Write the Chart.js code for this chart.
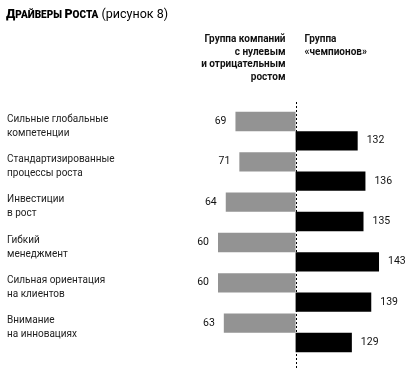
<!DOCTYPE html>
<html>
<head>
<meta charset="utf-8">
<script src="https://cdn.jsdelivr.net/npm/chart.js@4"></script>
<style>
    html, body { margin: 0; padding: 0; background: #fff; }
    #wrap { width: 412px; height: 370px; }
</style>
</head>
<body>
<div id="wrap"><canvas id="driversChart"></canvas></div>
<script>
const categories = [
    ['Сильные глобальные', 'компетенции'],
    ['Стандартизированные', 'процессы роста'],
    ['Инвестиции', 'в рост'],
    ['Гибкий', 'менеджмент'],
    ['Сильная ориентация', 'на клиентов'],
    ['Внимание', 'на инновациях'],
];
const zeroGrowthValues = [69, 71, 64, 60, 60, 63];
const championValues = [132, 136, 135, 143, 139, 129];
const baseline = 100;

const FONT = 'Roboto, "Liberation Sans", sans-serif';

const overlay = {
    id: 'overlay',
    afterDatasetsDraw(chart) {
        const { ctx, scales: { x } } = chart;
        const axisX = Math.round(x.getPixelForValue(baseline)) + 0.5;

        ctx.save();

        // value labels
        ctx.font = '10.5px ' + FONT;
        ctx.fillStyle = '#111';
        ctx.textBaseline = 'middle';
        chart.getDatasetMeta(0).data.forEach((bar, i) => {
            ctx.textAlign = 'right';
            ctx.fillText(zeroGrowthValues[i], x.getPixelForValue(zeroGrowthValues[i]) - 9, bar.y);
        });
        chart.getDatasetMeta(1).data.forEach((bar, i) => {
            ctx.textAlign = 'left';
            ctx.fillText(championValues[i], x.getPixelForValue(championValues[i]) + 9, bar.y);
        });

        // dotted axis
        ctx.strokeStyle = '#000';
        ctx.lineWidth = 1;
        ctx.setLineDash([2, 2]);
        ctx.beginPath();
        ctx.moveTo(axisX, 102);
        ctx.lineTo(axisX, 370);
        ctx.stroke();
        ctx.setLineDash([]);

        // title with small caps
        let tx = 6;
        const parts = [
            ['Д', '900 12.5px '], ['РАЙВЕРЫ ', '900 10px '],
            ['Р', '900 12.5px '], ['ОСТА', '900 10px '],
            [' (рисунок 8)', '12.5px '],
        ];
        ctx.textAlign = 'left';
        ctx.textBaseline = 'alphabetic';
        ctx.fillStyle = '#000';
        parts.forEach(([text, font]) => {
            ctx.font = font + FONT;
            ctx.fillText(text, tx, 18);
            tx += ctx.measureText(text).width;
        });

        // column headers
        ctx.font = 'bold 10px ' + FONT;
        ctx.fillStyle = '#111';
        const leftHead = ['Группа компаний', 'с нулевым', 'и отрицательным', 'ростом'];
        const rightHead = ['Группа', '«чемпионов»'];
        ctx.textAlign = 'right';
        leftHead.forEach((line, i) => ctx.fillText(line, axisX - 11, 42 + i * 12.7));
        ctx.textAlign = 'left';
        rightHead.forEach((line, i) => ctx.fillText(line, axisX + 8, 42 + i * 12.7));

        ctx.restore();
    }
};

new Chart(document.getElementById('driversChart'), {
    type: 'bar',
    plugins: [overlay],
    data: {
        labels: categories,
        datasets: [
            {
                label: 'Группа компаний с нулевым и отрицательным ростом',
                data: zeroGrowthValues.map(v => [v, baseline]),
                backgroundColor: '#939393',
            },
            {
                label: 'Группа «чемпионов»',
                data: championValues.map(v => [baseline, v]),
                backgroundColor: '#000000',
            },
        ],
    },
    options: {
        indexAxis: 'y',
        responsive: true,
        maintainAspectRatio: false,
        animation: false,
        categoryPercentage: 0.96,
        barPercentage: 1,
        layout: { padding: { left: 7, right: 9.7, top: 111, bottom: 8.5 } },
        plugins: {
            legend: { display: false },
            tooltip: { enabled: false },
        },
        scales: {
            x: {
                display: false,
                min: 30,
                max: 155,
            },
            y: {
                afterFit(scale) { scale.width = 152.8; },
                grid: { display: false },
                border: { display: false },
                ticks: {
                    crossAlign: 'far',
                    labelOffset: -5,
                    color: '#222',
                    font: { family: FONT, size: 10, lineHeight: 1.4 },
                },
            },
        },
    },
});
</script>
</body>
</html>
